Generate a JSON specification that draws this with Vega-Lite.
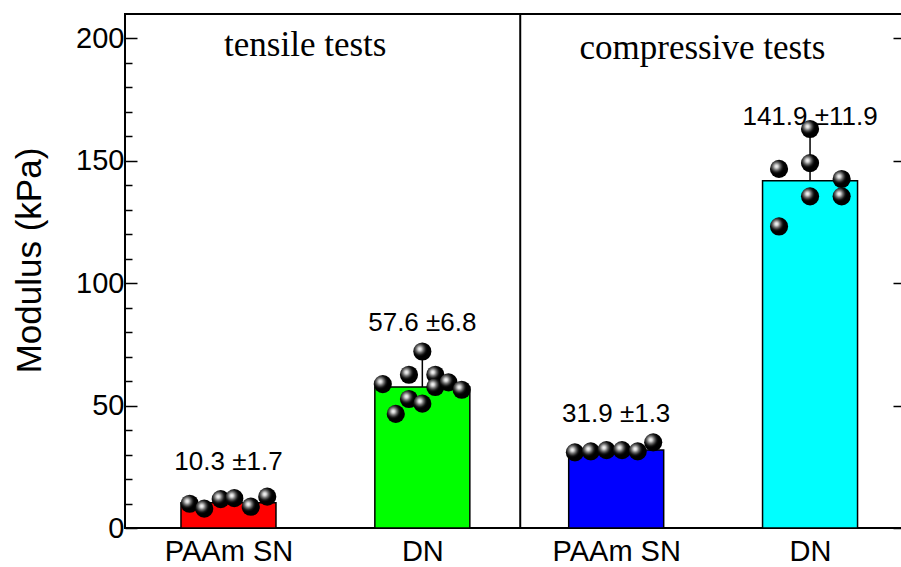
{
  "$schema": "https://vega.github.io/schema/vega-lite/v6.json",
  "width": 780,
  "height": 514,
  "autosize": "none",
  "padding": {"left": 125, "top": 14, "right": 0, "bottom": 39},
  "background": "white",
  "config": {
    "view": {"stroke": "black", "strokeWidth": 2},
    "font": "Liberation Sans"
  },
  "datasets": {
    "bars": [
      {"cat": "PAAm SN (tensile)", "idx": 0, "mean": 10.3, "hi": 12.0, "label": "10.3 ±1.7", "ly": 23.8, "fillc": "#FF0000"},
      {"cat": "DN (tensile)", "idx": 1, "mean": 57.6, "hi": 70.0, "label": "57.6 ±6.8", "ly": 80.3, "fillc": "#00FF00"},
      {"cat": "PAAm SN (compressive)", "idx": 2, "mean": 31.9, "hi": 33.2, "label": "31.9 ±1.3", "ly": 43.5, "fillc": "#0000FF"},
      {"cat": "DN (compressive)", "idx": 3, "mean": 141.9, "hi": 160.0, "label": "141.9 ±11.9", "ly": 164.7, "fillc": "#00FFFF"}
    ],
    "pts": [
      {"x": -0.2, "v": 9.9},
      {"x": -0.125, "v": 7.9},
      {"x": -0.04, "v": 11.8},
      {"x": 0.03, "v": 12.2},
      {"x": 0.115, "v": 8.7},
      {"x": 0.2, "v": 12.8},
      {"x": 0.796, "v": 58.8},
      {"x": 0.863, "v": 46.6},
      {"x": 0.931, "v": 62.6},
      {"x": 0.931, "v": 52.7},
      {"x": 1.0, "v": 72.1},
      {"x": 1.0, "v": 50.8},
      {"x": 1.067, "v": 62.6},
      {"x": 1.067, "v": 57.6},
      {"x": 1.135, "v": 59.5},
      {"x": 1.203, "v": 56.5},
      {"x": 1.787, "v": 30.9},
      {"x": 1.869, "v": 31.3},
      {"x": 1.95, "v": 31.8},
      {"x": 2.03, "v": 31.8},
      {"x": 2.111, "v": 31.3},
      {"x": 2.191, "v": 35.0},
      {"x": 2.84, "v": 146.7},
      {"x": 3.0, "v": 163.0},
      {"x": 3.0, "v": 149.1},
      {"x": 3.0, "v": 135.5},
      {"x": 2.84, "v": 123.2},
      {"x": 3.163, "v": 142.6},
      {"x": 3.163, "v": 135.5}
    ],
    "heads": [
      {"x": 0.396, "y": 192.7, "t": "tensile tests"},
      {"x": 2.445, "y": 191.6, "t": "compressive tests"}
    ],
    "divider": [{"x": 1.505}]
  },
  "resolve": {"axis": {"y": "independent"}},
  "layer": [
    {
      "data": {"name": "bars"},
      "mark": {"type": "bar", "width": 95, "stroke": "black", "strokeWidth": 1.5},
      "encoding": {
        "x": {
          "field": "idx", "type": "quantitative",
          "scale": {"domain": [-0.508, 3.464], "nice": false, "zero": false},
          "axis": {
            "values": [0, 1, 2, 3],
            "labelExpr": "['PAAm SN','DN','PAAm SN','DN'][datum.value]",
            "ticks": false, "domain": false, "grid": false,
            "labelFontSize": 29, "labelColor": "black", "labelPadding": 9,
            "labelFont": "Liberation Sans", "title": null
          }
        },
        "y": {
          "field": "mean", "type": "quantitative",
          "scale": {"domain": [0, 210], "nice": false},
          "axis": {
            "orient": "left",
            "values": [0, 50, 100, 150, 200],
            "tickSize": -12,
            "tickColor": "black", "tickWidth": 1.5,
            "domain": false, "grid": false,
            "labelFontSize": 29, "labelColor": "black", "labelPadding": 13,
            "labelFont": "Liberation Sans",
            "title": "Modulus (kPa)", "titleFontSize": 35, "titleFont": "Liberation Sans",
            "titleFontWeight": "normal", "titleColor": "black",
            "titleAngle": 270, "titleAlign": "center", "titleBaseline": "alphabetic",
            "titleX": -85, "titleY": 246
          }
        },
        "fill": {"field": "fillc", "type": "nominal", "scale": null}
      }
    },
    {
      "data": {"name": "bars"},
      "mark": {"type": "rule", "color": "black", "strokeWidth": 1.5},
      "encoding": {
        "x": {"field": "idx", "type": "quantitative"},
        "y": {
          "field": "mean", "type": "quantitative",
          "axis": {
            "orient": "right",
            "values": [0, 50, 100, 150, 200],
            "labels": false, "domain": false, "grid": false,
            "tickSize": -12, "tickColor": "black", "tickWidth": 1.5,
            "title": null
          }
        },
        "y2": {"field": "hi"}
      }
    },
    {
      "data": {"name": "pts"},
      "mark": {
        "type": "circle", "size": 330, "opacity": 1,
        "fill": {
          "gradient": "radial",
          "x1": 0.36, "y1": 0.36, "r1": 0,
          "x2": 0.36, "y2": 0.36, "r2": 0.42,
          "stops": [
            {"offset": 0, "color": "#ffffff"},
            {"offset": 0.22, "color": "#d4d4d4"},
            {"offset": 0.5, "color": "#6a6a6a"},
            {"offset": 0.8, "color": "#141414"},
            {"offset": 1, "color": "#000000"}
          ]
        }
      },
      "encoding": {
        "x": {"field": "x", "type": "quantitative"},
        "y": {
          "field": "v", "type": "quantitative",
          "axis": {
            "orient": "left",
            "values": [10,20,30,40,60,70,80,90,110,120,130,140,160,170,180,190],
            "labels": false, "domain": false, "grid": false,
            "tickSize": -7, "tickColor": "black", "tickWidth": 1.5,
            "title": null
          }
        }
      }
    },
    {
      "data": {"name": "bars"},
      "mark": {"type": "text", "fontSize": 26, "font": "Liberation Sans", "color": "black", "align": "center", "baseline": "alphabetic"},
      "encoding": {
        "x": {"field": "idx", "type": "quantitative"},
        "y": {"field": "ly", "type": "quantitative", "axis": null},
        "text": {"field": "label"}
      }
    },
    {
      "data": {"name": "heads"},
      "mark": {"type": "text", "fontSize": 35, "font": "Liberation Serif", "color": "black", "align": "center", "baseline": "alphabetic"},
      "encoding": {
        "x": {"field": "x", "type": "quantitative"},
        "y": {"field": "y", "type": "quantitative", "axis": null},
        "text": {"field": "t"}
      }
    },
    {
      "data": {"name": "divider"},
      "mark": {"type": "rule", "color": "black", "strokeWidth": 2},
      "encoding": {
        "x": {"field": "x", "type": "quantitative"}
      }
    }
  ]
}
